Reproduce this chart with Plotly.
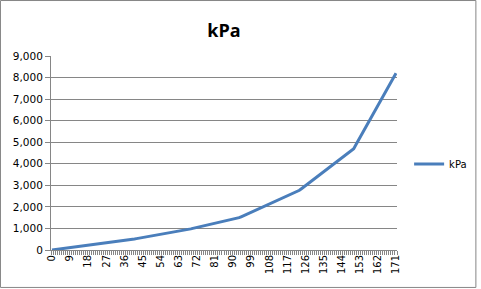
import plotly.graph_objects as go

categories = list(range(0, 172))
kpa = [
    0, 12, 23, 35, 46, 58, 70, 81, 93, 104, 116, 128, 139, 151, 162, 174,
    186, 197, 209, 220, 232, 244, 255, 267, 278, 290, 302, 313, 325, 336, 348, 360,
    375, 391, 406, 421, 437, 452, 467, 482, 498, 513, 528, 544, 559, 574, 590, 605,
    620, 636, 651, 666, 682, 697, 712, 727, 743, 758, 773, 789, 804, 819, 835, 850,
    872, 893, 915, 937, 958, 980, 1002, 1023, 1045, 1067, 1088, 1110, 1132, 1153, 1175, 1197,
    1218, 1240, 1262, 1283, 1305, 1327, 1348, 1370, 1392, 1413, 1435, 1457, 1478, 1500,
    1541, 1583, 1624, 1666, 1707, 1748, 1790, 1831, 1872, 1914, 1955, 1997, 2038, 2079,
    2121, 2162, 2203, 2245, 2286, 2328, 2369, 2410, 2452, 2493, 2534, 2576, 2617, 2659, 2700,
    2771, 2843, 2914, 2986, 3057, 3129, 3200, 3271, 3343, 3414, 3486, 3557, 3629, 3700,
    3771, 3843, 3914, 3986, 4057, 4129, 4200, 4271, 4343, 4414, 4486, 4557, 4629, 4700,
    4867, 5033, 5200, 5367, 5533, 5700, 5867, 6033, 6200, 6367, 6533, 6700, 6867, 7033,
    7200, 7367, 7533, 7700, 7867, 8033, 8200,
]
x_tick_labels = list(range(0, 172, 9))
y_ticks = list(range(0, 9001, 1000))

font_family = "DejaVu Sans, Verdana, sans-serif"
grid_color = "#868686"

fig = go.Figure()
fig.add_trace(go.Scatter(
    x=categories, y=kpa, mode="lines", name="kPa",
    line=dict(color="#4A7EBB", width=3),
))

fig.update_layout(
    width=481, height=289,
    margin=dict(l=51, r=84, t=56, b=39, autoexpand=False),
    paper_bgcolor="white", plot_bgcolor="white",
    font=dict(family=font_family, size=10, color="#000000"),
    title=dict(text="<b>kPa</b>", x=0.5, xref="paper", y=0.895, yref="container",
               xanchor="center", yanchor="middle",
               font=dict(family="Open Sans, sans-serif", size=18, color="#000000")),
    showlegend=True,
    legend=dict(x=1.035, y=0.443, xanchor="left", yanchor="middle",
                font=dict(size=10), bgcolor="rgba(0,0,0,0)",
                itemwidth=30),
    shapes=[dict(type="rect", xref="paper", yref="paper",
                 x0=-0.146, x1=1.228, y0=-0.193, y1=1.286,
                 line=dict(color="#868686", width=1), fillcolor="rgba(0,0,0,0)",
                 layer="below")],
)

fig.update_xaxes(
    range=[-0.5, 171.5], tickmode="array", tickvals=x_tick_labels,
    ticktext=[str(v) for v in x_tick_labels], tickangle=-90,
    ticks="", showgrid=False, zeroline=False,
    showline=True, linecolor=grid_color, linewidth=1,
    tickfont=dict(size=10),
    minor=dict(tickmode="linear", tick0=-0.5, dtick=1, ticks="outside",
               ticklen=4, tickcolor=grid_color, showgrid=False),
)
fig.update_yaxes(
    range=[0, 9000], tickmode="array", tickvals=y_ticks, tickformat=",",
    ticks="outside", ticklen=5, tickcolor=grid_color,
    showgrid=True, gridcolor=grid_color, gridwidth=1, zeroline=False,
    showline=True, linecolor=grid_color, linewidth=1,
    tickfont=dict(size=10.5),
)

fig.write_html("out.html")
